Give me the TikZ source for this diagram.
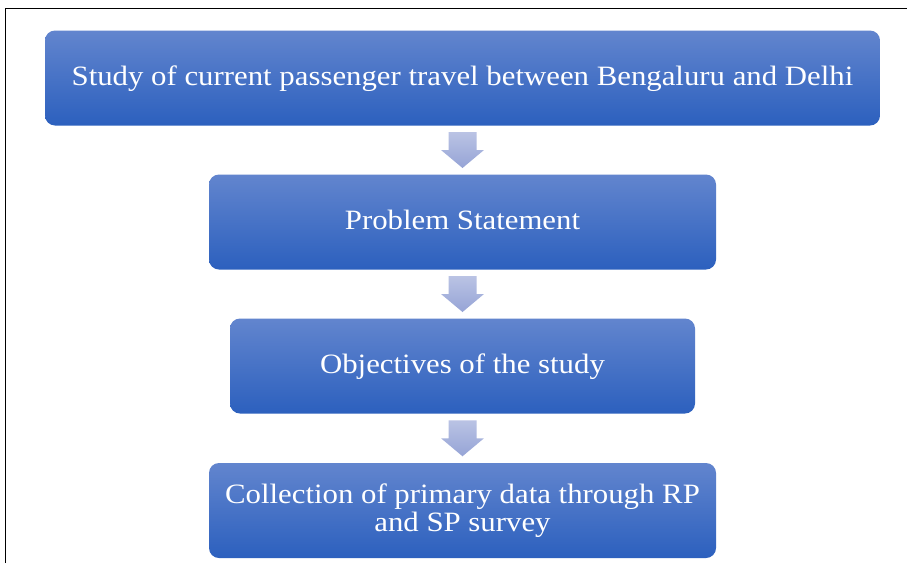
\documentclass[tikz,border=0pt]{standalone}
\usepackage{fontspec}
\setmainfont{Liberation Serif}[FakeStretch=1.1]
\usetikzlibrary{calc}
\definecolor{boxtop}{RGB}{98,133,206}
\definecolor{boxbot}{RGB}{44,96,190}
\definecolor{arrtop}{RGB}{186,195,228}
\definecolor{arrbot}{RGB}{150,164,214}
\tikzset{
  stepbox/.style={rounded corners=10pt, top color=boxtop, bottom color=boxbot, draw=none,
    text=white, font=\fontsize{28}{28.5}\selectfont, align=center, inner sep=0pt},
  oneline/.style={text height=20pt, text depth=6pt},
  downarr/.style={top color=arrtop, bottom color=arrbot, draw=none}
}
\newcommand{\dnarrow}[1]{%
  \path[downarr] ($(#1)+(-14,18)$) -- ($(#1)+(14,18)$) -- ($(#1)+(14,0)$) -- ($(#1)+(21.5,0)$)
    -- ($(#1)+(0,-18)$) -- ($(#1)+(-21.5,0)$) -- ($(#1)+(-14,0)$) -- cycle;}
\begin{document}
\begin{tikzpicture}[x=1pt,y=1pt]
\useasboundingbox (0,0) rectangle (907,-563);
\fill[white] (0,0) rectangle (907,-563);
\draw[line width=1.5pt] (5.5,-563) -- (5.5,-8.5) -- (907,-8.5);
\node[stepbox, oneline, minimum width=835, minimum height=95] (b1) at (462.5,-78) {Study of current passenger travel between Bengaluru and Delhi};
\node[stepbox, oneline, minimum width=507, minimum height=95] (b2) at (462.5,-222) {Problem Statement};
\node[stepbox, oneline, minimum width=465, minimum height=95] (b3) at (462.5,-366) {Objectives of the study};
\node[stepbox, minimum width=507, minimum height=95] (b4) at (462.5,-510.5) {Collection of primary data through RP\\and SP survey};
\coordinate (m1) at ($(b1.south)!0.5!(b2.north)$);
\coordinate (m2) at ($(b2.south)!0.5!(b3.north)$);
\coordinate (m3) at ($(b3.south)!0.5!(b4.north)$);
\dnarrow{m1}
\dnarrow{m2}
\dnarrow{m3}
\end{tikzpicture}
\end{document}
